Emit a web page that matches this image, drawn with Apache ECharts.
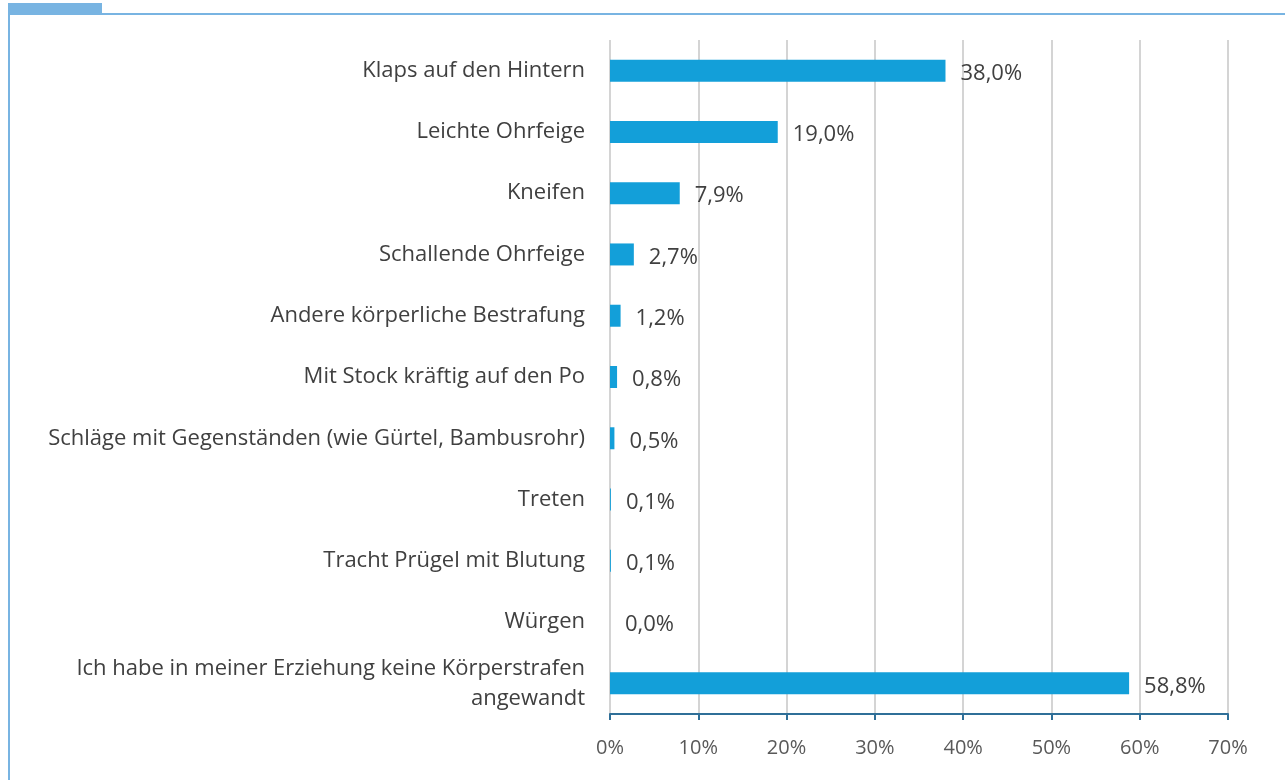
<!DOCTYPE html>
<html>
<head>
<meta charset="utf-8">
<script src="https://cdn.jsdelivr.net/npm/echarts@6/dist/echarts.min.js"></script>
<style>
  html, body { margin: 0; padding: 0; background: #fff; }
  #chart { width: 1285px; height: 780px; }
</style>
</head>
<body>
<div id="chart"></div>
<script>
// Kategorien (von oben nach unten) und Anteile in Prozent
const categories = [
  'Klaps auf den Hintern',
  'Leichte Ohrfeige',
  'Kneifen',
  'Schallende Ohrfeige',
  'Andere körperliche Bestrafung',
  'Mit Stock kräftig auf den Po',
  'Schläge mit Gegenständen (wie Gürtel, Bambusrohr)',
  'Treten',
  'Tracht Prügel mit Blutung',
  'Würgen',
  'Ich habe in meiner Erziehung keine Körperstrafen\nangewandt'
];
const values = [38.0, 19.0, 7.9, 2.7, 1.2, 0.8, 0.5, 0.1, 0.1, 0.0, 58.8];
const axisMax = 70;
const axisStep = 10;

const font = '"Open Sans", "Noto Sans", sans-serif';
const fmtPct = v => v.toFixed(1).replace('.', ',') + '%';

const myChart = echarts.init(document.getElementById('chart'));
const option = {
  backgroundColor: '#ffffff',
  animation: false,
  grid: { left: 610, right: 57, top: 40, bottom: 66 },
  graphic: [
    // Rahmen oben / links und blauer Reiter
    { type: 'rect', shape: { x: 8, y: 3, width: 94, height: 10 }, style: { fill: '#78b4e2' } },
    { type: 'line', shape: { x1: 8, y1: 14, x2: 1285, y2: 14 }, style: { stroke: '#78b4e2', lineWidth: 2 } },
    { type: 'line', shape: { x1: 9, y1: 14, x2: 9, y2: 780 }, style: { stroke: '#78b4e2', lineWidth: 2 } }
  ],
  xAxis: {
    type: 'value',
    min: 0,
    max: axisMax,
    interval: axisStep,
    axisLine: { show: true, lineStyle: { color: '#2f6f98', width: 2 } },
    axisTick: { show: true, length: 6, inside: false, lineStyle: { color: '#2f6f98', width: 2 } },
    axisLabel: {
      formatter: '{value}%',
      color: '#595959',
      fontFamily: font,
      fontSize: 20,
      margin: 24
    },
    splitLine: { show: true, lineStyle: { color: '#d4d4d4', width: 2 } }
  },
  yAxis: {
    type: 'category',
    inverse: true,
    data: categories,
    axisLine: { show: false },
    axisTick: { show: false },
    axisLabel: {
      color: '#404040',
      fontFamily: font,
      fontSize: 22,
      margin: 25,
      align: 'right',
      lineHeight: 30
    }
  },
  series: [
    {
      type: 'bar',
      data: values,
      barWidth: 22,
      itemStyle: { color: '#139fd9' },
      label: {
        show: true,
        position: 'right',
        distance: 15,
        offset: [0, 3],
        color: '#404040',
        fontFamily: font,
        fontSize: 22,
        formatter: p => fmtPct(p.value)
      }
    }
  ]
};
myChart.setOption(option);
</script>
</body>
</html>
